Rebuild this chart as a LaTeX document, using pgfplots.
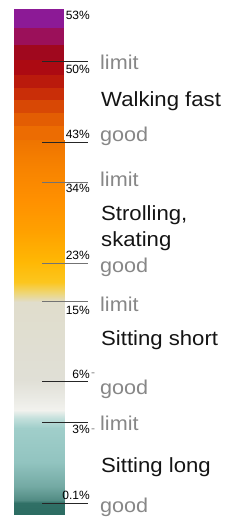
\documentclass[border=0pt]{standalone}
\usepackage{pgfplots}
\pgfplotsset{compat=1.18}
\usepackage{graphicx}
\usepackage{fontspec}
\setmainfont{Liberation Sans}
\definecolor{s1}{RGB}{140,26,150}
\definecolor{s2}{RGB}{155,16,90}
\definecolor{s3}{RGB}{160,8,30}
\definecolor{s4}{RGB}{172,10,18}
\definecolor{s5}{RGB}{186,26,12}
\definecolor{s6}{RGB}{201,46,8}
\definecolor{s7}{RGB}{216,72,5}
\definecolor{s8}{RGB}{227,93,3}
\definecolor{s9}{RGB}{236,108,2}
\definecolor{lbl}{RGB}{135,135,135}
\definecolor{txt}{RGB}{20,20,20}
\newcommand{\wide}[1]{\scalebox{1.08}[1]{#1}}
\begin{document}
\begin{tikzpicture}
\begin{axis}[
  scale only axis, width=240pt, height=521pt,
  xmin=0, xmax=240, ymin=0, ymax=521, y dir=reverse,
  hide axis, clip=false,
  colormap={bar}{rgb255(140)=(238,116,0) rgb255(170)=(248,132,0) rgb255(200)=(255,144,0) rgb255(230)=(255,160,0) rgb255(262)=(255,184,4) rgb255(282)=(252,198,30) rgb255(293)=(238,214,120) rgb255(302)=(224,221,204) rgb255(380)=(224,223,214) rgb255(398)=(234,234,228) rgb255(410)=(242,242,238) rgb255(418)=(196,224,220) rgb255(428)=(160,206,202) rgb255(462)=(146,196,192) rgb255(486)=(116,170,164) rgb255(500)=(82,140,132) rgb255(503)=(48,112,102) rgb255(514)=(44,108,98)},
  point meta min=140, point meta max=514,
]
% stripes
\addplot[draw=none, fill=s1] coordinates {(14,9) (64,9) (64,28) (14,28)};
\addplot[draw=none, fill=s2] coordinates {(14,28) (64,28) (64,45) (14,45)};
\addplot[draw=none, fill=s3] coordinates {(14,45) (64,45) (64,60) (14,60)};
\addplot[draw=none, fill=s4] coordinates {(14,60) (64,60) (64,75) (14,75)};
\addplot[draw=none, fill=s5] coordinates {(14,75) (64,75) (64,88) (14,88)};
\addplot[draw=none, fill=s6] coordinates {(14,88) (64,88) (64,100) (14,100)};
\addplot[draw=none, fill=s7] coordinates {(14,100) (64,100) (64,113) (14,113)};
\addplot[draw=none, fill=s8] coordinates {(14,113) (64,113) (64,126) (14,126)};
\addplot[draw=none, fill=s9] coordinates {(14,126) (64,126) (64,140.5) (14,140.5)};
% gradient
\addplot[surf, shader=interp, point meta=\thisrow{y}] table {
x y
14 140
64 140

14 170
64 170

14 200
64 200

14 230
64 230

14 262
64 262

14 282
64 282

14 293
64 293

14 302
64 302

14 380
64 380

14 398
64 398

14 410
64 410

14 418
64 418

14 428
64 428

14 462
64 462

14 486
64 486

14 500
64 500

14 503
64 503

14 514
64 514
};
% tick lines
\addplot[black!85, line width=0.9pt] coordinates {(42,61) (88,61)};
\addplot[black!85, line width=0.9pt] coordinates {(42,142) (88,142)};
\addplot[black!55, line width=0.9pt] coordinates {(42,182) (88,182)};
\addplot[black!55, line width=0.9pt] coordinates {(42,263) (88,263)};
\addplot[black!55, line width=0.9pt] coordinates {(42,301) (88,301)};
\addplot[black!85, line width=0.9pt] coordinates {(42,381) (88,381)};
\addplot[black!85, line width=0.9pt] coordinates {(42,422) (88,422)};
\addplot[black!85, line width=0.9pt] coordinates {(42,503) (88,503)};
% percent labels
\begin{scope}[every node/.style={anchor=base east, inner sep=0pt, font=\fontsize{12}{13}\selectfont, text=black}]
\node at (axis cs:90,20) {53\%};
\node at (axis cs:90,74) {50\%};
\node at (axis cs:90,139) {43\%};
\node at (axis cs:90,193) {34\%};
\node at (axis cs:90,259) {23\%};
\node at (axis cs:90,314) {15\%};
\node at (axis cs:90,378) {6\%};
\node at (axis cs:90,433) {3\%};
\node at (axis cs:90,499) {0.1\%};
\end{scope}
\node[anchor=base west, inner sep=0pt, font=\fontsize{12}{13}\selectfont, text=lbl] at (axis cs:91,376) {-};
\node[anchor=base west, inner sep=0pt, font=\fontsize{12}{13}\selectfont, text=lbl] at (axis cs:91,432) {-};
\begin{scope}[every node/.style={anchor=base west, inner sep=0pt, font=\fontsize{20}{24}\selectfont, text=lbl}]
\node at (axis cs:100,70) {\wide{limit}};
\node at (axis cs:100,142) {\wide{good}};
\node at (axis cs:100,187) {\wide{limit}};
\node at (axis cs:100,272) {\wide{good}};
\node at (axis cs:100,311) {\wide{limit}};
\node at (axis cs:100,394) {\wide{good}};
\node at (axis cs:100,430) {\wide{limit}};
\node at (axis cs:100,512) {\wide{good}};
\end{scope}
\begin{scope}[every node/.style={anchor=base west, inner sep=0pt, font=\fontsize{20.5}{24}\selectfont, text=txt}]
\node at (axis cs:101,107) {\wide{Walking fast}};
\node at (axis cs:101,220) {\wide{Strolling,}};
\node at (axis cs:101,246) {\wide{skating}};
\node at (axis cs:101,345) {\wide{Sitting short}};
\node at (axis cs:101,472) {\wide{Sitting long}};
\end{scope}
\end{axis}
\pgfresetboundingbox
\path (0,0) rectangle (240pt,521pt);
\end{tikzpicture}
\end{document}
